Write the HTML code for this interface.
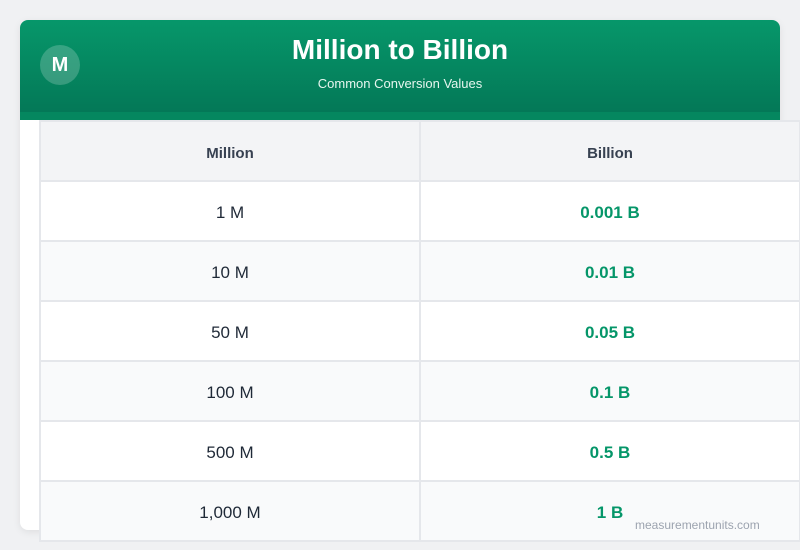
<!DOCTYPE html>
<html><head><style>
body{margin:0;width:800px;height:550px;background:#f0f1f3;font-family:"Liberation Sans",sans-serif;position:relative;overflow:hidden}
.card{position:absolute;left:20px;top:20px;width:760px;height:510px;background:#fff;border-radius:8px;box-shadow:0 2px 8px rgba(0,0,0,0.08);overflow:hidden}
.hdr{position:absolute;left:0;top:0;width:760px;height:92px;background:linear-gradient(#06976a,#047857)}
.strip{position:absolute;left:0;top:92px;width:760px;height:8px;background:#05875f}
.logo{position:absolute;left:20px;top:25px;width:40px;height:40px;border-radius:50%;background:rgba(255,255,255,0.2);color:#fff;font-weight:bold;font-size:20px;line-height:40px;text-align:center}
h1{position:absolute;left:0;width:760px;top:14px;margin:0;text-align:center;color:#fff;font-size:28px;font-weight:bold}
.sub{position:absolute;left:0;width:760px;top:56px;text-align:center;color:#e6f6ef;font-size:13px}
table{position:absolute;left:39px;top:120px;border-collapse:collapse;width:762px}
td,th{width:380px;height:54px;padding:4px 0 0 0;border:2px solid #e5e7eb;text-align:center;font-size:17px;color:#1f2937;background:#fff}
th{background:#f3f4f6;font-size:15px;color:#374151}
tr:nth-child(odd) td{background:#f9fafb}
td.b{color:#059669;font-weight:bold}
.wm{position:absolute;left:635px;top:518px;font-size:12px;color:#9ca3af}
</style></head><body>
<div class="card"><div class="hdr"></div><div class="strip"></div><div class="logo">M</div><h1>Million to Billion</h1><div class="sub">Common Conversion Values</div></div>
<table>
<tr><th>Million</th><th>Billion</th></tr>
<tr><td>1 M</td><td class="b">0.001 B</td></tr>
<tr><td>10 M</td><td class="b">0.01 B</td></tr>
<tr><td>50 M</td><td class="b">0.05 B</td></tr>
<tr><td>100 M</td><td class="b">0.1 B</td></tr>
<tr><td>500 M</td><td class="b">0.5 B</td></tr>
<tr><td>1,000 M</td><td class="b">1 B</td></tr>
</table>
<div class="wm">measurementunits.com</div>
</body></html>
